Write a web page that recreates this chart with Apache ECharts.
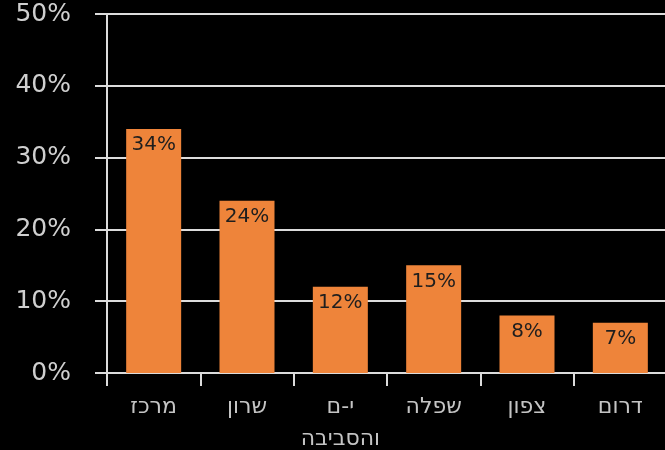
<!DOCTYPE html>
<html>
<head>
<meta charset="utf-8">
<script src="https://cdn.jsdelivr.net/npm/echarts@6/dist/echarts.min.js"></script>
<style>
html,body{margin:0;padding:0;background:#000;}
#c{width:665px;height:450px;}
</style>
</head>
<body>
<div id="c"></div>
<script>
const categories = ['מרכז', 'שרון', 'י-ם\nוהסביבה', 'שפלה', 'צפון', 'דרום'];
const values = [34, 24, 12, 15, 8, 7];
const yTicks = { min: 0, max: 50, interval: 10 };

const chart = echarts.init(document.getElementById('c'));
chart.setOption({
  backgroundColor: '#000',
  animation: false,
  grid: { left: 107, right: -2, top: 14, bottom: 77, containLabel: false, outerBoundsMode: 'none' },
  xAxis: {
    type: 'category',
    data: categories,
    axisLine: { lineStyle: { color: '#dcdcdc', width: 2 } },
    axisTick: { show: true, length: 13, interval: 0, lineStyle: { color: '#dcdcdc', width: 2 } },
    axisLabel: {
      interval: 0,
      margin: 18,
      color: '#c4c4c4',
      fontSize: 22,
      lineHeight: 32,
      fontFamily: '"DejaVu Sans", "Liberation Sans", sans-serif'
    }
  },
  yAxis: {
    type: 'value',
    min: yTicks.min, max: yTicks.max, interval: yTicks.interval,
    axisLine: { show: true, lineStyle: { color: '#dcdcdc', width: 2 } },
    axisTick: { show: true, length: 12, lineStyle: { color: '#dcdcdc', width: 2 } },
    splitLine: { show: true, lineStyle: { color: '#dcdcdc', width: 2 } },
    axisLabel: {
      margin: 36,
      color: '#cfcfcf',
      fontSize: 25,
      fontFamily: '"DejaVu Sans", sans-serif',
      formatter: '{value}%'
    }
  },
  series: [{
    type: 'bar',
    data: values,
    barWidth: 55,
    itemStyle: { color: '#EE843A' },
    label: {
      show: true,
      position: 'insideTop',
      distance: 6,
      color: '#1e1e1e',
      fontSize: 20,
      fontFamily: '"DejaVu Sans", sans-serif',
      formatter: '{c}%'
    }
  }]
});
</script>
</body>
</html>
